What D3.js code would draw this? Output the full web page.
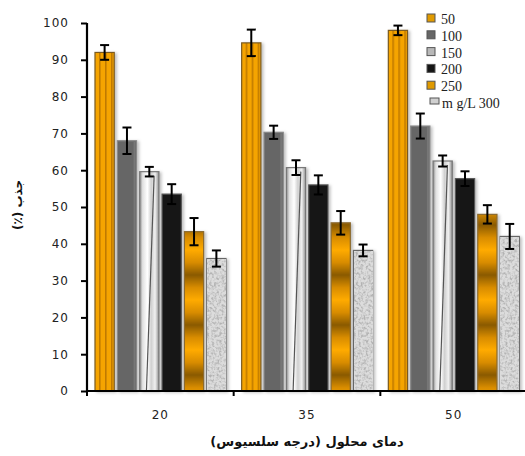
<!DOCTYPE html>
<html><head><meta charset="utf-8">
<script src="https://cdn.jsdelivr.net/npm/d3@7"></script>
<style>body{margin:0;background:#fff}svg{display:block}</style>
</head><body>
<script>
const categories = ["20","35","50"];
const series = ["50","100","150","200","250","m g/L 300"];
const values = [
  [92, 68, 59.6, 53.5, 43.3, 36],
  [94.6, 70.3, 60.7, 56, 45.7, 38.2],
  [98, 72, 62.5, 57.7, 48, 42]
];
const errors = [
  [2, 3.6, 1.3, 2.7, 3.7, 2.2],
  [3.6, 1.8, 2, 2.6, 3.2, 1.6],
  [1.3, 3.4, 1.5, 2, 2.5, 3.4]
];
const yTicks = [0,10,20,30,40,50,60,70,80,90,100];
const yLabel = "جذب (٪)";
const xLabel = "دمای محلول (درجه سلسیوس)";

const W=525,H=456;
const svg=d3.select("body").append("svg").attr("width",W).attr("height",H);
const defs=svg.append("defs");

const p1=defs.append("pattern").attr("id","p0").attr("patternUnits","userSpaceOnUse").attr("width",6).attr("height",10);
p1.append("rect").attr("width",6).attr("height",10).attr("fill","#f5a400");
p1.append("rect").attr("x",0).attr("width",1.6).attr("height",10).attr("fill","#c07a00");
const g3=defs.append("linearGradient").attr("id","g2").attr("x1",0).attr("x2",1).attr("y1",0).attr("y2",0);
[["0","#8a8a8a"],["0.15","#e0e0e0"],["0.4","#ffffff"],["0.6","#d0d0d0"],["0.8","#f0f0f0"],["1","#909090"]].forEach(s=>g3.append("stop").attr("offset",s[0]).attr("stop-color",s[1]));
const g5=defs.append("linearGradient").attr("id","g4").attr("gradientUnits","userSpaceOnUse").attr("x1",0).attr("x2",0).attr("y1",0).attr("y2",25).attr("spreadMethod","reflect");
[["0","#ffab00"],["0.5","#d88c00"],["1","#8a5a05"]].forEach(s=>g5.append("stop").attr("offset",s[0]).attr("stop-color",s[1]));
const f=defs.append("filter").attr("id","granite").attr("x",0).attr("y",0).attr("width",1).attr("height",1);
f.append("feTurbulence").attr("type","fractalNoise").attr("baseFrequency",0.4).attr("numOctaves",2).attr("seed",3).attr("result","n");
f.append("feColorMatrix").attr("type","matrix").attr("values","0 0 0 0 0.45  0 0 0 0 0.45  0 0 0 0 0.45  -3 0 0 0 1.75").attr("result","m");
f.append("feFlood").attr("flood-color","#dcdcdc").attr("result","bg");
f.append("feMerge").call(m=>{m.append("feMergeNode").attr("in","bg");m.append("feMergeNode").attr("in","m");});
const sh=defs.append("filter").attr("id","shadow").attr("x","-20%").attr("y","-5%").attr("width","150%").attr("height","110%");
sh.append("feDropShadow").attr("dx",2).attr("dy",1).attr("stdDeviation",1.5).attr("flood-color","#000").attr("flood-opacity",0.25);

const fills=["url(#p0)","#666666","url(#g2)","#151515","url(#g4)","#cfcfcf"];
const strokes=["#7a5a20","#888","#777","#555","#8a6a30","#666"];

const x0=d3.scaleBand().domain(categories).range([87,527]);
const x1=d3.scaleBand().domain(series).range([8,139]).paddingInner(0.14);
const y=d3.scaleLinear().domain([0,100]).range([391,23]);

const groups=svg.append("g").selectAll("g").data(categories).join("g")
  .attr("transform",d=>`translate(${x0(d)},0)`);
groups.each(function(cat,ci){
  const g=d3.select(this);
  series.forEach((s,si)=>{
    const v=values[ci][si], e=errors[ci][si];
    const bx=x1(s), bw=x1.bandwidth();
    g.append("rect").attr("x",bx).attr("y",y(v)).attr("width",bw).attr("height",y(0)-y(v))
      .attr("fill",fills[si]).attr("stroke",strokes[si]).attr("stroke-width",1.2).attr("filter","url(#shadow)");
    if(si===5){
      g.append("rect").attr("x",bx+0.6).attr("y",y(v)+0.6).attr("width",bw-1.2).attr("height",y(0)-y(v)-1.2)
        .attr("filter","url(#granite)");
    }
    if(si===2){
      g.append("line").attr("x1",bx+bw*0.35).attr("x2",bx+bw*0.75).attr("y1",y(0)).attr("y2",y(v)+4)
        .attr("stroke","#555").attr("stroke-width",1.2);
    }
    if(si===1){
      g.append("rect").attr("x",bx+bw-3).attr("y",y(v)+1).attr("width",2).attr("height",y(0)-y(v)-1).attr("fill","#777");
    }
    const cx=bx+bw/2;
    const eb=g.append("g").attr("stroke","#000").attr("stroke-width",2);
    eb.append("line").attr("x1",cx).attr("x2",cx).attr("y1",y(v+e)).attr("y2",y(v-e));
    eb.append("line").attr("x1",cx-4.5).attr("x2",cx+4.5).attr("y1",y(v+e)).attr("y2",y(v+e));
    eb.append("line").attr("x1",cx-4.5).attr("x2",cx+4.5).attr("y1",y(v-e)).attr("y2",y(v-e));
  });
});

const yAxis=svg.append("g").attr("transform","translate(87,0)")
  .call(d3.axisLeft(y).tickValues(yTicks).tickSize(6).tickPadding(12));
yAxis.select(".domain").attr("stroke","#000").attr("stroke-width",2.2).attr("d","M0,23V391");
yAxis.selectAll(".tick line").attr("stroke","#000").attr("stroke-width",2);
yAxis.selectAll("text").attr("font-family","DejaVu Sans").attr("font-size",12).attr("letter-spacing","1px").attr("fill","#222");

const xAxis=svg.append("g").attr("transform","translate(0,391)")
  .call(d3.axisBottom(x0).tickSize(0).tickPadding(19));
xAxis.select(".domain").attr("stroke","#000").attr("stroke-width",2.2).attr("d","M87,0H527");
xAxis.selectAll("text").attr("font-family","DejaVu Sans").attr("font-size",12).attr("letter-spacing","1px").attr("fill","#222");
svg.append("g").selectAll("line").data(categories).join("line")
  .attr("x1",d=>x0(d)).attr("x2",d=>x0(d)).attr("y1",391).attr("y2",396).attr("stroke","#000").attr("stroke-width",2);

svg.append("text").attr("transform","translate(22,205) rotate(-90)").attr("text-anchor","middle")
  .attr("font-family","DejaVu Sans").attr("font-weight","bold").attr("font-size",12).attr("direction","rtl").attr("fill","#111").text(yLabel);
svg.append("text").attr("x",307).attr("y",446).attr("text-anchor","middle").attr("direction","rtl")
  .attr("font-family","DejaVu Sans").attr("font-weight","bold").attr("font-size",13).attr("fill","#111").text(xLabel);

const legFill=["#e09a00","#666666","#b8b8b8","#151515","#e09a00","#d0d0d0"];
const leg=svg.append("g").selectAll("g").data(series).join("g")
  .attr("transform",(d,i)=>`translate(427,${19+i*16.8})`);
leg.append("rect").attr("x",(d,i)=>i===5?3:0).attr("y",-5).attr("width",(d,i)=>i===5?9:8).attr("height",(d,i)=>i===5?6:8)
  .attr("fill",(d,i)=>legFill[i]).attr("stroke","#555").attr("stroke-width",1);
leg.append("text").attr("x",(d,i)=>i===5?15:14).attr("y",5).attr("font-family","Liberation Serif").attr("font-size",14)
  .attr("fill","#222").text(d=>d);
</script>
</body></html>
